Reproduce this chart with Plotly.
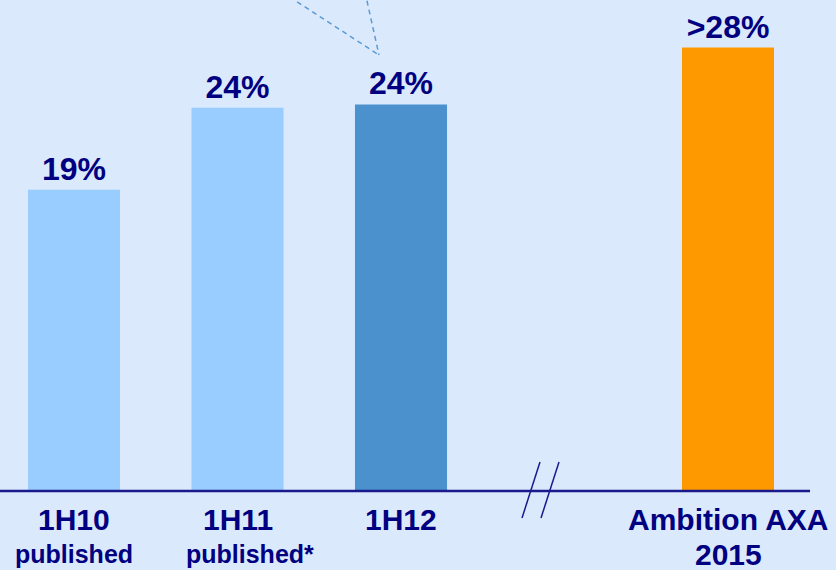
import plotly.graph_objects as go

# Data
categories = ["1H10", "1H11", "1H12", "Ambition AXA"]
sublabels = ["published", "published*", "", "2015"]
values = [19.0, 24.2, 24.4, 28.0]
prefixes = ["", "", "", ">"]
bar_colors = ["#99CCFF", "#99CCFF", "#4B91CD", "#FF9900"]

NAVY = "#000080"
BG = "#DBE9FD"
FONT = "Liberation Sans, Arial, sans-serif"

# Slots along the axis: the target bar sits after an axis break
slots = [0, 1, 2, 4]
labels = [f"{p}{v:.0f}%" for p, v in zip(prefixes, values)]

W, H = 836, 570
PX_PER_SLOT = 163.5
X0_PX = 74
PX_PER_UNIT = 15.8
BASE_PX = 490

x_range = [-X0_PX / PX_PER_SLOT, (W - X0_PX) / PX_PER_SLOT]
y_range = [-(H - BASE_PX) / PX_PER_UNIT, BASE_PX / PX_PER_UNIT]

fig = go.Figure(
    go.Bar(
        x=slots,
        y=values,
        width=0.563,
        marker=dict(color=bar_colors, line=dict(width=0)),
        text=labels,
        textposition="outside",
        textfont=dict(family=FONT, size=32, color=NAVY, weight="bold"),
        cliponaxis=False,
        hoverinfo="skip",
    )
)


def px(x, y):
    return x / W, 1 - y / H


shapes = []
# baseline
shapes.append(dict(type="line", xref="paper", yref="y", x0=0, x1=810 / W, y0=-0.06, y1=-0.06,
                   line=dict(color="#1A1A8C", width=2.5)))
# axis break marks
for (xa, ya), (xb, yb) in [((540, 462), (522, 518)), ((559, 462), (541, 518))]:
    a, b = px(xa, ya), px(xb, yb)
    shapes.append(dict(type="line", xref="paper", yref="paper", x0=a[0], y0=a[1], x1=b[0], y1=b[1],
                       line=dict(color="#1A1A8C", width=1.5)))
# dashed callout pointer
for (xa, ya), (xb, yb) in [((282, -8), (379, 55)), ((365, -8), (379, 55))]:
    a, b = px(xa, ya), px(xb, yb)
    shapes.append(dict(type="line", xref="paper", yref="paper", x0=a[0], y0=a[1], x1=b[0], y1=b[1],
                       line=dict(color="#5B9BD5", width=1.5, dash="5px,4px")))

annotations = []
for s, cat, sub in zip(slots, categories, sublabels):
    annotations.append(dict(x=s, y=(BASE_PX - 519) / PX_PER_UNIT, xref="x", yref="y",
                            text=f"<b>{cat}</b>", showarrow=False, yanchor="middle",
                            font=dict(family=FONT, size=30, color=NAVY)))
    if sub:
        big = sub[0].isdigit()
        annotations.append(dict(x=s, y=(BASE_PX - 554) / PX_PER_UNIT, xref="x", yref="y",
                                text=f"<b>{sub}</b>", showarrow=False, yanchor="middle",
                                xshift=12 if sub.endswith("*") else 0,
                                font=dict(family=FONT, size=30 if big else 25, color=NAVY)))

fig.update_layout(
    width=W,
    height=H,
    margin=dict(l=0, r=0, t=0, b=0),
    paper_bgcolor=BG,
    plot_bgcolor=BG,
    showlegend=False,
    xaxis=dict(range=x_range, visible=False, fixedrange=True),
    yaxis=dict(range=y_range, visible=False, fixedrange=True),
    shapes=shapes,
    annotations=annotations,
)

fig.write_html("out.html")
